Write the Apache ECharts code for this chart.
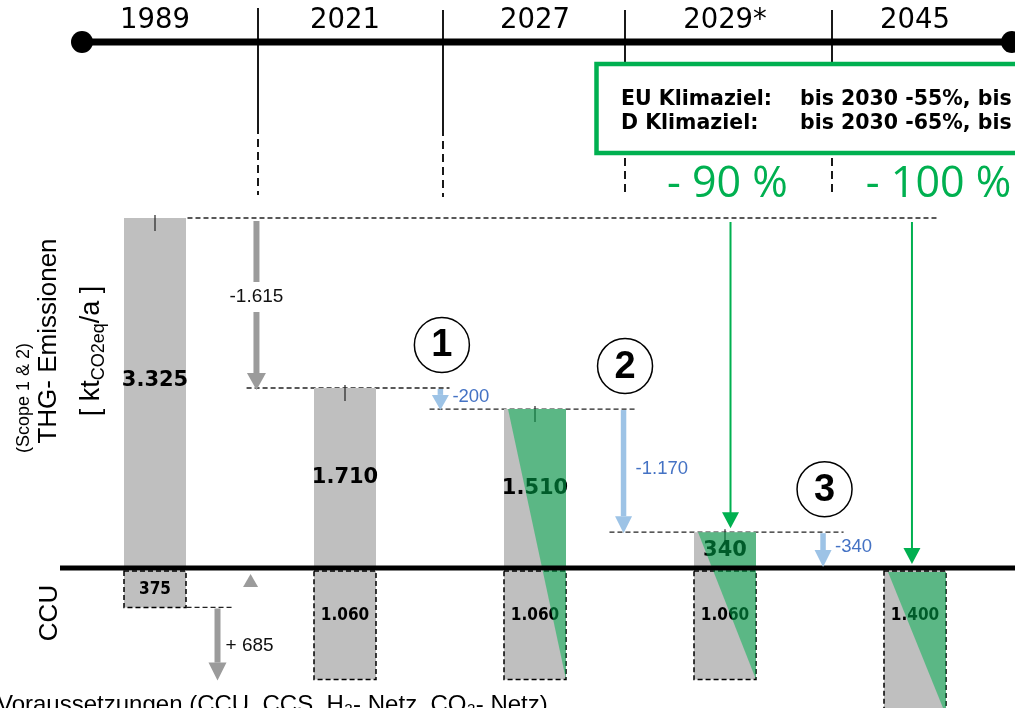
<!DOCTYPE html>
<html><head><meta charset="utf-8">
<script src="https://cdn.jsdelivr.net/npm/echarts@6/dist/echarts.min.js"></script>
<style>html,body{margin:0;padding:0;background:#fff;overflow:hidden}#c{width:1015px;height:708px}</style>
</head><body><div id="c"></div>
<script>
// ---------- data ----------
const years = ['1989', '2021', '2027', '2029*', '2045'];
const emissions = [3325, 1710, 1510, 340, 0];
const emissionLabels = ['3.325', '1.710', '1.510', '340', ''];
const ccu = [375, 1060, 1060, 1060, 1400];
const ccuLabels = ['375', '1.060', '1.060', '1.060', '1.400'];
const greenShare = [false, false, true, true, true];
const stepLabels = ['-1.615', '-200', '-1.170', '-340'];
const stepMarkers = ['', '1', '2', '3'];
const ccuStepLabel = '+ 685';
const targetCats = [3, 4];
const targetLabels = ['- 90 %', '- 100 %'];
const goalNames = ['EU Klimaziel:', 'D Klimaziel:'];
const goalTexts = ['bis 2030 -55%, bis 2050 -100%', 'bis 2030 -65%, bis 2045 -100%'];
const footnote = 'Voraussetzungen (CCU, CCS, H\u2082- Netz, CO\u2082- Netz)';

// ---------- layout / style ----------
const GRAY = '#bfbfbf', GREEN = '#00b050', GREEN_FILL = 'rgba(0,176,80,0.52)';
const BLUE_ARROW = '#9dc3e6', BLUE_TEXT = '#4472c4', GRAY_ARROW = '#9b9b9b';
const BAR_W = 62;
const layout = {
  stepX: [0.534, 1.502, 2.466, 3.516],
  levelSpans: [[0.171, 4.129], [0.482, 1.55], [1.445, 2.534], [2.392, 3.624]],
  ccuSpan: [0.166, 0.413],
  ccuStepX: 0.329, ccuUpX: 0.503,
  targetArrowX: [3.029, 3.984],
  targetLabelX: [3.013, 4.124]
};
const SANS = '"Liberation Sans", Arial, sans-serif';
const VERD = '"DejaVu Sans", Verdana, sans-serif';
const COND = '"DejaVu Sans Condensed", "Liberation Sans Narrow", sans-serif';

function txt(x, y, text, font, fill, align, valign) {
  return {type: 'text', x: x, y: y, style: {text: text, font: font, fill: fill,
    align: align || 'center', verticalAlign: valign || 'middle',
    textAlign: align || 'center', textVerticalAlign: valign || 'middle'}};
}
function arrow(x, y1, y2, shaftW, headW, headH, color) {
  const dir = y2 > y1 ? 1 : -1;
  const hb = y2 - dir * headH;
  const els = [];
  if ((hb - y1) * dir > 0) {
    els.push({type: 'rect', shape: {x: x - shaftW / 2, y: Math.min(y1, hb), width: shaftW, height: Math.abs(hb - y1)}, style: {fill: color}});
  }
  els.push({type: 'polygon', shape: {points: [[x - headW / 2, hb], [x + headW / 2, hb], [x, y2]]}, style: {fill: color}});
  return els;
}

// ---------- series data ----------
const barData = emissions.map((v, i) => [i, v]);
const ccuData = ccu.map((v, i) => [i, v]);
const greenData = greenShare.map((g, i) => [i, g ? 1 : 0]);
const levelData = emissions.slice(0, 4).map((v, j) => [layout.levelSpans[j][0], layout.levelSpans[j][1], v])
  .concat([[layout.ccuSpan[0], layout.ccuSpan[1], -ccu[0]]]);
const stepData = stepLabels.map((l, j) => [layout.stepX[j], emissions[j], emissions[j + 1], j]);
const targetData = targetCats.map((c, j) => [layout.targetArrowX[j], emissions[0], emissions[c], j]);

const chart = echarts.init(document.getElementById('c'));
const option = {
  animation: false,
  grid: {left: 60, right: 5, top: 42, bottom: 0, outerBoundsMode: 'none', containLabel: false},
  xAxis: [
    {type: 'category', data: years, position: 'top', axisLine: {show: false}, axisTick: {show: false},
     axisLabel: {fontSize: 27.5, fontFamily: VERD, color: '#000', margin: 7}, splitLine: {show: false}},
    {type: 'value', min: -0.5, max: 4.5, show: false}
  ],
  yAxis: {type: 'value', min: -1330, max: 4997, show: false},
  series: [
    { // dashed level lines
      type: 'custom', xAxisIndex: 1, z: 1, data: levelData,
      renderItem: function (p, api) {
        const a = api.coord([api.value(0), api.value(2)]), b = api.coord([api.value(1), api.value(2)]);
        return {type: 'line', shape: {x1: a[0], y1: a[1], x2: b[0], y2: b[1]},
          style: {stroke: '#222', lineWidth: 1.3, lineDash: [5, 3]}};
      }
    },
    { // emission bars
      type: 'custom', xAxisIndex: 1, z: 2, data: barData,
      renderItem: function (p, api) {
        const i = api.value(0), v = api.value(1);
        if (!v) return {type: 'group', children: []};
        const top = api.coord([i, v]), base = api.coord([i, 0]);
        const cy = Math.min((top[1] + base[1]) / 2, top[1] + 163);
        return {type: 'group', children: [
          {type: 'rect', shape: {x: top[0] - BAR_W / 2, y: top[1], width: BAR_W, height: base[1] - top[1]}, style: {fill: GRAY}},
          {type: 'line', shape: {x1: top[0], y1: top[1] - 3, x2: top[0], y2: top[1] + 13}, style: {stroke: '#222', lineWidth: 1.2}},
          txt(top[0], cy, emissionLabels[i], 'bold 21px ' + VERD, '#000')
        ]};
      }
    },
    { // CCU boxes
      type: 'custom', xAxisIndex: 1, z: 2, data: ccuData,
      renderItem: function (p, api) {
        const i = api.value(0), v = api.value(1);
        const base = api.coord([i, 0]), bot = api.coord([i, -v]);
        const top = base[1] + 3;
        const cy = Math.min((top + bot[1]) / 2, top + 45);
        return {type: 'group', children: [
          {type: 'rect', shape: {x: base[0] - BAR_W / 2, y: top, width: BAR_W, height: bot[1] - top},
           style: {fill: GRAY, stroke: '#000', lineWidth: 1.5, lineDash: [5, 3]}},
          txt(base[0], cy, ccuLabels[i], 'bold 17px ' + COND, '#000')
        ]};
      }
    },
    { // green share triangles
      type: 'custom', xAxisIndex: 1, z: 3, data: greenData,
      renderItem: function (p, api) {
        const i = api.value(0);
        if (!api.value(1)) return {type: 'group', children: []};
        const base = api.coord([i, 0]);
        const topY = emissions[i] > 0 ? api.coord([i, emissions[i]])[1] : base[1] + 4;
        const botY = api.coord([i, -ccu[i]])[1];
        const xl = base[0] - BAR_W / 2 + 4, xr = base[0] + BAR_W / 2;
        return {type: 'polygon', shape: {points: [[xl, topY], [xr, topY], [xr, botY]]}, style: {fill: GREEN_FILL}};
      }
    },
    { // baseline
      type: 'custom', xAxisIndex: 1, z: 4, data: [[0]],
      renderItem: function (p, api) {
        const a = api.coord([-0.5, 0]);
        return {type: 'line', shape: {x1: a[0], y1: a[1], x2: api.getWidth(), y2: a[1]}, style: {stroke: '#000', lineWidth: 5}};
      }
    },
    { // reduction steps
      type: 'custom', xAxisIndex: 1, z: 5, data: stepData,
      renderItem: function (p, api) {
        const x = api.value(0), a = api.value(1), b = api.value(2), j = api.value(3);
        const p1 = api.coord([x, a]), p2 = api.coord([x, b]);
        const px = p1[0];
        const els = [];
        if (j === 0) {
          const y1 = p1[1] + 3, y2 = p2[1] + 2;
          const mid = (y1 + y2 - 17) / 2;
          els.push({type: 'rect', shape: {x: px - 3, y: y1, width: 6, height: mid - 15 - y1}, style: {fill: GRAY_ARROW}});
          els.push.apply(els, arrow(px, mid + 15, y2, 6, 19, 17, GRAY_ARROW));
          els.push(txt(px, mid, stepLabels[j], '19px ' + SANS, '#111'));
        } else {
          const y1 = p1[1] + 1, y2 = p2[1] + (b === 0 ? -1 : 1);
          const hh = Math.min(17, (y2 - y1) * 0.72);
          els.push.apply(els, arrow(px, y1, y2, 5.5, 17, hh, BLUE_ARROW));
          els.push(txt(px + 12, (y1 + y2) / 2 - 3, stepLabels[j], '18.5px ' + SANS, BLUE_TEXT, 'left'));
          const cy = p1[1] - 43;
          els.push({type: 'circle', shape: {cx: px + 1.5, cy: cy, r: 27.5}, style: {fill: '#fff', stroke: '#000', lineWidth: 1.5}});
          els.push(txt(px + 1.5, cy + 1, stepMarkers[j], 'bold 38px ' + SANS, '#000'));
        }
        return {type: 'group', children: els};
      }
    },
    { // CCU increase
      type: 'custom', xAxisIndex: 1, z: 5, data: [[layout.ccuStepX, -ccu[0], -ccu[1]]],
      renderItem: function (p, api) {
        const x = api.value(0);
        const p1 = api.coord([x, api.value(1)]), p2 = api.coord([x, api.value(2)]);
        const up = api.coord([layout.ccuUpX, 0]);
        const els = arrow(p1[0], p1[1] + 1, p2[1] + 1, 6, 18, 18, GRAY_ARROW);
        els.push({type: 'polygon', shape: {points: [[up[0] - 7.5, up[1] + 19], [up[0] + 7.5, up[1] + 19], [up[0], up[1] + 6]]}, style: {fill: GRAY_ARROW}});
        els.push(txt(p1[0] + 8, (p1[1] + p2[1]) / 2 + 2, ccuStepLabel, '19px ' + SANS, '#111', 'left'));
        return {type: 'group', children: els};
      }
    },
    { // climate targets
      type: 'custom', xAxisIndex: 1, z: 5, data: targetData,
      renderItem: function (p, api) {
        const x = api.value(0), a = api.value(1), b = api.value(2), j = api.value(3);
        const p1 = api.coord([x, a]), p2 = api.coord([x, b]);
        const els = [{type: 'line', shape: {x1: p1[0], y1: p1[1] + 4, x2: p1[0], y2: p2[1] - 18}, style: {stroke: GREEN, lineWidth: 2}}];
        els.push({type: 'polygon', shape: {points: [[p1[0] - 8.5, p2[1] - 20], [p1[0] + 8.5, p2[1] - 20], [p1[0], p2[1] - 4]]}, style: {fill: GREEN}});
        const lp = api.coord([layout.targetLabelX[j], a]);
        els.push(txt(lp[0], lp[1] - 33, targetLabels[j], '43px "Open Sans", sans-serif', GREEN));
        return {type: 'group', children: els};
      }
    }
  ],
  graphic: [
    {type: 'line', z: 10, shape: {x1: 82, y1: 42, x2: 1012, y2: 42}, style: {stroke: '#000', lineWidth: 7}},
    {type: 'circle', z: 10, shape: {cx: 82, cy: 42, r: 11}, style: {fill: '#000'}},
    {type: 'circle', z: 10, shape: {cx: 1012, cy: 42, r: 11}, style: {fill: '#000'}},
    {type: 'line', z: 10, shape: {x1: 258, y1: 8, x2: 258, y2: 126}, style: {stroke: '#000', lineWidth: 1.8}},
    {type: 'line', z: 10, shape: {x1: 258, y1: 126, x2: 258, y2: 195}, style: {stroke: '#000', lineWidth: 1.8, lineDash: [8, 5]}},
    {type: 'line', z: 10, shape: {x1: 443, y1: 10, x2: 443, y2: 128}, style: {stroke: '#000', lineWidth: 1.8}},
    {type: 'line', z: 10, shape: {x1: 443, y1: 128, x2: 443, y2: 197}, style: {stroke: '#000', lineWidth: 1.8, lineDash: [8, 5]}},
    {type: 'line', z: 10, shape: {x1: 625, y1: 10, x2: 625, y2: 63}, style: {stroke: '#000', lineWidth: 1.8}},
    {type: 'line', z: 10, shape: {x1: 625, y1: 158, x2: 625, y2: 197}, style: {stroke: '#000', lineWidth: 1.8, lineDash: [8, 5]}},
    {type: 'line', z: 10, shape: {x1: 832, y1: 10, x2: 832, y2: 63}, style: {stroke: '#000', lineWidth: 1.8}},
    {type: 'line', z: 10, shape: {x1: 832, y1: 158, x2: 832, y2: 195}, style: {stroke: '#000', lineWidth: 1.8, lineDash: [8, 5]}},
    {type: 'rect', z: 11, shape: {x: 596.5, y: 64, width: 440, height: 89}, style: {fill: '#fff', stroke: GREEN, lineWidth: 4.5}},
    {type: 'text', z: 12, x: 621, y: 100, style: {text: goalNames[0], font: 'bold 20.5px ' + VERD, fill: '#000', align: 'left', verticalAlign: 'middle'}},
    {type: 'text', z: 12, x: 800, y: 100, style: {text: goalTexts[0], font: 'bold 20.5px ' + VERD, fill: '#000', align: 'left', verticalAlign: 'middle'}},
    {type: 'text', z: 12, x: 621, y: 124, style: {text: goalNames[1], font: 'bold 20.5px ' + VERD, fill: '#000', align: 'left', verticalAlign: 'middle'}},
    {type: 'text', z: 12, x: 800, y: 124, style: {text: goalTexts[1], font: 'bold 20.5px ' + VERD, fill: '#000', align: 'left', verticalAlign: 'middle'}},
    {type: 'text', z: 12, x: 24, y: 398, rotation: Math.PI / 2, style: {text: '(Scope 1 & 2)', font: '18px ' + SANS, fill: '#000', align: 'center', verticalAlign: 'middle'}},
    {type: 'text', z: 12, x: 49, y: 341, rotation: Math.PI / 2, style: {text: 'THG- Emissionen', font: '26px ' + SANS, fill: '#000', align: 'center', verticalAlign: 'middle'}},
    {type: 'text', z: 12, x: 92, y: 351, rotation: Math.PI / 2, style: {text: '[ kt{sub|CO2eq}/a ]', fontSize: 27, fontFamily: SANS, lineHeight: 32, fill: '#000', align: 'center', verticalAlign: 'middle',
      rich: {sub: {fontSize: 18, fontFamily: SANS, lineHeight: 14, verticalAlign: 'bottom', fill: '#000'}}}},
    {type: 'text', z: 12, x: 50, y: 613, rotation: Math.PI / 2, style: {text: 'CCU', font: '26px ' + SANS, fill: '#000', align: 'center', verticalAlign: 'middle'}},
    {type: 'text', z: 12, x: -3, y: 693, style: {text: footnote, font: '24px ' + SANS, fill: '#000', align: 'left', verticalAlign: 'top'}}
  ]
};
chart.setOption(option);
</script>
</body></html>
